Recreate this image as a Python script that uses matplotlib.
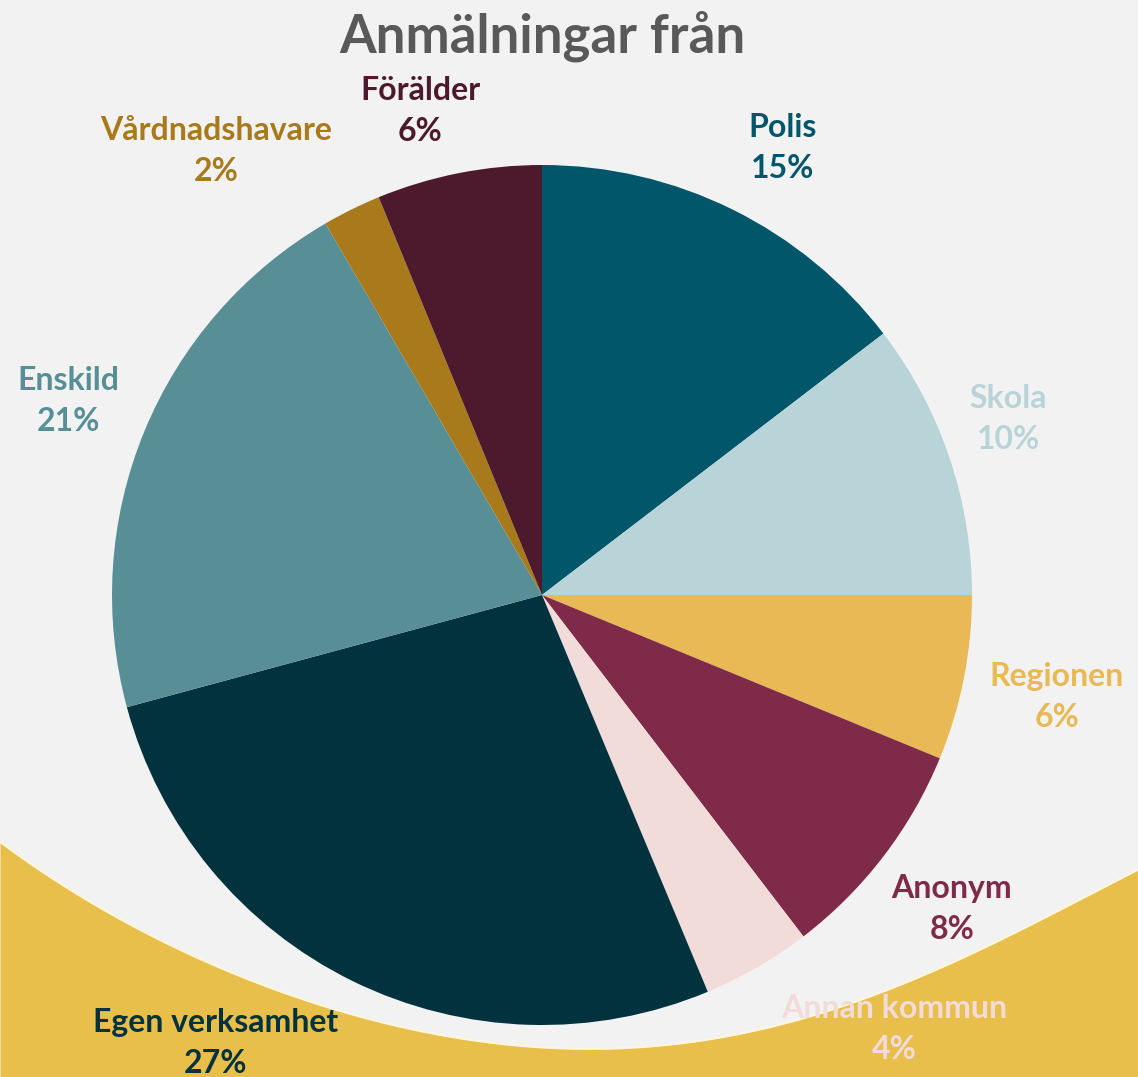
import numpy as np
import matplotlib
matplotlib.use("Agg")
import matplotlib.pyplot as plt

# data (clockwise from 12 o'clock)
categories = ["Polis", "Skola", "Regionen", "Anonym", "Annan kommun",
              "Egen verksamhet", "Enskild", "Vårdnadshavare", "Förälder"]
shares = [14.6, 10.4, 6.2, 8.4, 4.1, 27.1, 20.8, 2.2, 6.2]
colors = ["#02566A", "#B8D4D8", "#E8B955", "#7E2A48", "#F2DCDA",
          "#01323E", "#588F96", "#A87A1B", "#4C1A2C"]

# label placement: (radius factor, clockwise angle nudge in degrees)
label_layout = [(1.18, 2), (1.16, -2), (1.22, 0), (1.20, 0), (1.30, -9),
                (1.29, 10), (1.19, 0), (1.28, -10), (1.16, -3)]

W, H = 1138, 1077
BG = "#F2F2F2"
FONT = ["Lato", "DejaVu Sans"]

fig = plt.figure(figsize=(W / 100, H / 100), dpi=100, facecolor=BG)
ax = fig.add_axes([0, 0, 1, 1])
ax.set_facecolor(BG)

# decorative yellow swoosh at the bottom (control points in pixels, from top)
sx = np.array([0, 100, 200, 300, 400, 567, 700, 800, 938, 1016, 1138])
sy = np.array([842, 907, 960, 997, 1028, 1048, 1040, 1020, 970, 931, 870])
coef = np.polyfit(sx, sy, 5)
xs = np.linspace(0, W, 300)
top = H - np.polyval(coef, xs)
ax.fill_between(xs, top, -5, color="#E8BF4B", lw=0, zorder=0)
ax.plot(xs, top, color="#FFF6DC", lw=1.5, zorder=0)

cx, cy, r = 542, H - 595, 430
wedges, _ = ax.pie(shares, colors=colors, startangle=90, counterclock=False,
                   center=(cx, cy), radius=r, frame=True,
                   wedgeprops=dict(linewidth=0))
ax.set_xlim(0, W)
ax.set_ylim(0, H)
ax.set_aspect("equal")
ax.axis("off")

for w, name, val, col, (rf, nudge) in zip(wedges, categories, shares, colors, label_layout):
    mid = np.deg2rad((w.theta1 + w.theta2) / 2 - nudge)
    x = cx + rf * r * np.cos(mid)
    y = cy + rf * r * np.sin(mid)
    ax.text(x, y, f"{name}\n{val:.0f}%", color=col, ha="center", va="center",
            fontsize=23, fontweight="bold", family=FONT, linespacing=1.5)

ax.text(cx, H - 36, "Anmälningar från", ha="center", va="center",
        fontsize=38, fontweight="bold", color="#595959", family=FONT)

fig.savefig("out.png", dpi=100, facecolor=BG)
